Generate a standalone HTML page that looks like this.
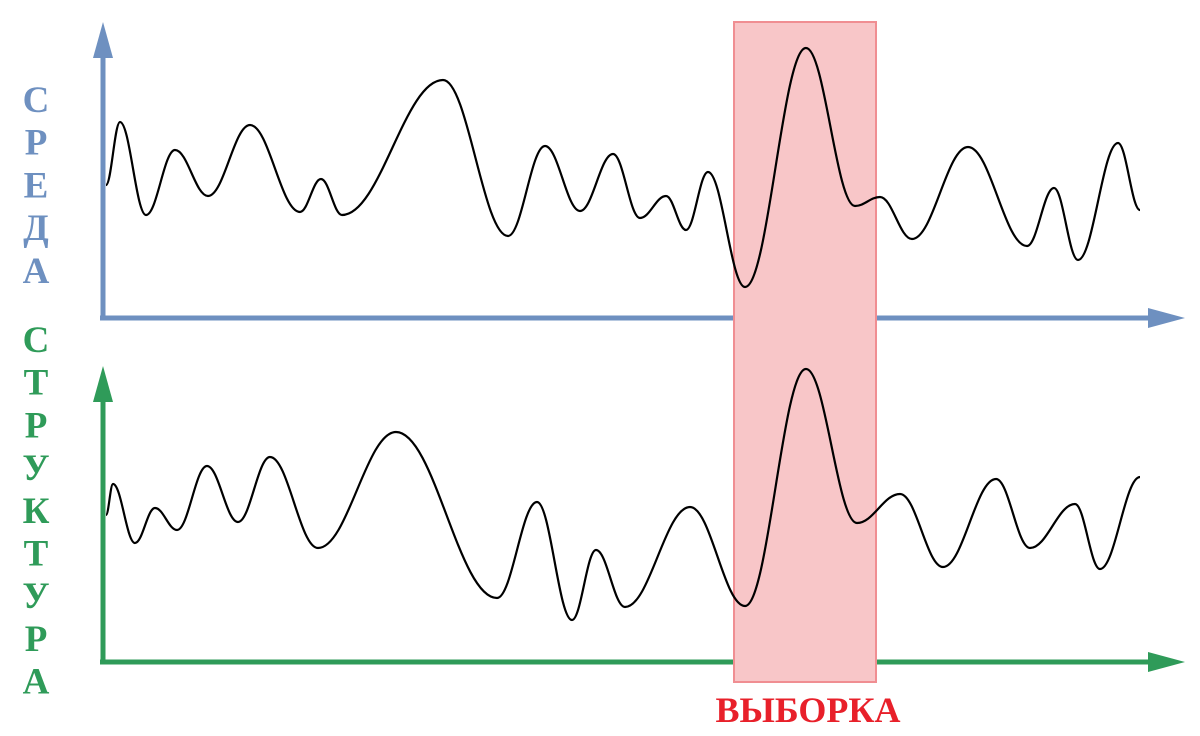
<!DOCTYPE html>
<html><head><meta charset="utf-8"><style>
html,body{margin:0;padding:0;background:#fff;width:1200px;height:736px;overflow:hidden}
svg text{font-family:"Liberation Serif",serif;font-weight:bold}
</style></head><body>
<svg id="c" width="1200" height="736" xmlns="http://www.w3.org/2000/svg">
<g id="axes"></g>
<rect x="734" y="22" width="142" height="660" fill="#f8c6c8" stroke="#f08e92" stroke-width="2"/>
<g id="curves"></g>
<text x="808" y="722" font-size="36" fill="#e8202a" text-anchor="middle">ВЫБОРКА</text>
<g id="labels"></g>
</svg>
<script>
// Environment (top) series: time and amplitude at extrema
const envT = [0,14,40,69,102,144,194,215,236,337,402,439,474,507,534,560,580,602,639,700,749,774,806,862,921,948,972,1012,1034];
const envY = [133,196,103,168,122,193,106,139,103,238,82,172,107,164,100,122,88,146,31,270,112,121,79,171,72,130,58,175,108];
// Structure (bottom) series
const strT = [0,7,29,49,71,101,132,164,212,290,391,431,466,490,519,584,639,700,751,794,837,890,924,969,994,1034];
const strY = [147,178,119,154,132,196,140,205,114,230,64,160,42,112,55,155,56,293,139,168,95,183,114,158,93,185];

const X0=106, XPX=1; // time -> px
const sx = t => X0 + t*XPX;
const panels = [
  {t:envT, y:envY, base:318, color:'#6e90c0', name:'environment'},
  {t:strT, y:strY, base:662, color:'#2f9b59', name:'structure'}
];
const NS='http://www.w3.org/2000/svg';
const axes=document.getElementById('axes'), curves=document.getElementById('curves');
function mk(tag, attrs, parent){const e=document.createElementNS(NS,tag);for(const k in attrs)e.setAttribute(k,attrs[k]);parent.appendChild(e);return e;}
panels.forEach(p=>{
  const top = p.base-296;
  const ya=mk('line',{x1:103,y1:p.base+2,x2:103,y2:top+30,stroke:p.color,'stroke-width':5},axes);
  
  
  const yh=mk('polygon',{points:`103,${top} 93,${top+36} 113,${top+36}`,fill:p.color},axes);
  
  
  const xa=mk('line',{x1:100,y1:p.base,x2:1155,y2:p.base,stroke:p.color,'stroke-width':5},axes);
  
  
  const xh=mk('polygon',{points:`1185,${p.base} 1148,${p.base-10} 1148,${p.base+10}`,fill:p.color},axes);
  
  
  const sy = v => p.base - v;
  let d=`M${sx(p.t[0])},${sy(p.y[0])}`;
  for(let i=1;i<p.t.length;i++){
    const x0=sx(p.t[i-1]), x1=sx(p.t[i]), dx=(x1-x0)*0.38;
    d+=` C${x0+dx},${sy(p.y[i-1])} ${x1-dx},${sy(p.y[i])} ${x1},${sy(p.y[i])}`;
  }
  const path=mk('path',{d:d,fill:'none',stroke:'#000','stroke-width':2.2},curves);
  
  
});
const labels=document.getElementById('labels');
const words=[{w:'СРЕДА',y0:112,c:'#6e90c0',n:'environment-label'},{w:'СТРУКТУРА',y0:352,c:'#2f9b59',n:'structure-label'}];
words.forEach(o=>{
  [...o.w].forEach((ch,i)=>{
    const t=mk('text',{x:36,y:o.y0+i*42.7,'font-size':37,fill:o.c,'text-anchor':'middle'},labels);
    t.textContent=ch;
    
    
  });
});
</script>
</body></html>
